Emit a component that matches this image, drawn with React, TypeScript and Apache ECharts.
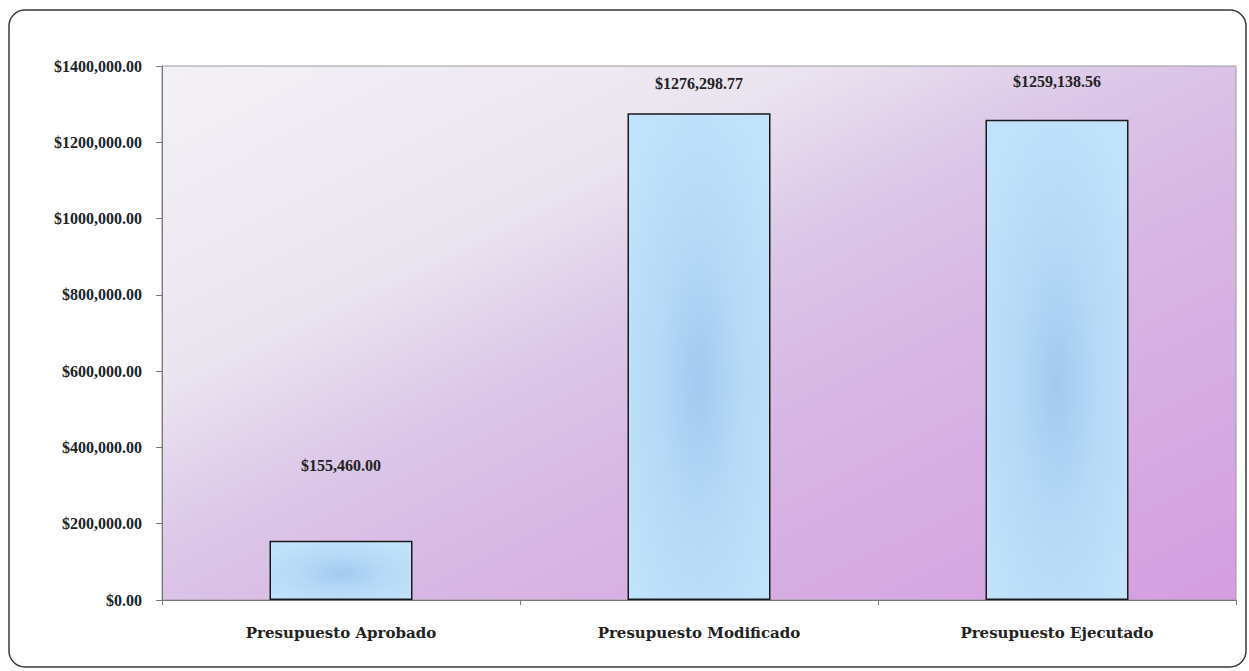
import React, { useEffect, useRef } from "react";
import * as echarts from "echarts";

const categories = ["Presupuesto Aprobado", "Presupuesto Modificado", "Presupuesto Ejecutado"];
const values = [155460.0, 1276298.77, 1259138.56];
const yMin = 0;
const yMax = 1400000;
const yInterval = 200000;

function fmtMoney(v: number): string {
  const th = Math.floor(v / 1000);
  const rest = v - th * 1000;
  if (th > 0) return `$${th},${rest.toFixed(2).padStart(6, "0")}`;
  return `$${rest.toFixed(2)}`;
}

const labelDistances = [67, 22, 30];

export default function App() {
  const ref = useRef<HTMLDivElement>(null);
  useEffect(() => {
    if (!ref.current) return;
    const chart = echarts.init(ref.current, undefined, { renderer: "svg" });
    const font = "'Liberation Serif', 'DejaVu Serif', serif";
    const catFont = "'DejaVu Serif', 'Liberation Serif', serif";
    chart.setOption({
      animation: false,
      backgroundColor: "#ffffff",
      textStyle: { fontFamily: font },
      graphic: [
        {
          type: "rect",
          shape: { x: 9, y: 10, width: 1237, height: 657, r: 16 },
          style: { fill: "none", stroke: "#3a3a3a", lineWidth: 1.5 },
          z: 100,
          silent: true,
        },
      ],
      grid: {
        left: 162,
        right: 13,
        top: 66,
        bottom: 71,
        show: true,
        borderColor: "#9a9a9a",
        borderWidth: 1,
        backgroundColor: new echarts.graphic.LinearGradient(0, 0, 1, 1, [
          { offset: 0, color: "#f3f1f6" },
          { offset: 0.3, color: "#ebe4f0" },
          { offset: 0.45, color: "#dcc8e8" },
          { offset: 0.6, color: "#d8b8e4" },
          { offset: 1, color: "#d49ee0" },
        ]),
      },
      xAxis: {
        type: "category",
        data: categories,
        axisLine: { lineStyle: { color: "#777", width: 1 } },
        axisTick: { show: true, alignWithLabel: false, length: 5, lineStyle: { color: "#777" } },
        axisLabel: {
          color: "#222",
          fontSize: 15,
          fontWeight: "bold",
          fontFamily: catFont,
          margin: 25,
        },
        splitLine: { show: false },
      },
      yAxis: {
        type: "value",
        min: yMin,
        max: yMax,
        interval: yInterval,
        axisLine: { show: true, lineStyle: { color: "#777", width: 1 } },
        axisTick: { show: true, length: 6, lineStyle: { color: "#777" } },
        axisLabel: {
          color: "#222",
          fontSize: 16,
          fontWeight: "bold",
          fontFamily: font,
          margin: 20,
          formatter: (v: number) => fmtMoney(v),
        },
        splitLine: { show: false },
      },
      series: [
        {
          type: "bar",
          data: values.map((v, i) => ({
            value: v,
            label: { distance: labelDistances[i] },
          })),
          barWidth: 143,
          itemStyle: {
            color: new echarts.graphic.RadialGradient(0.5, 0.55, 0.6, [
              { offset: 0, color: "#a2caf0" },
              { offset: 0.5, color: "#b6d9f7" },
              { offset: 1, color: "#c0e2fb" },
            ]),
            borderColor: "#1a1a1a",
            borderWidth: 1.5,
          },
          label: {
            show: true,
            position: "top",
            color: "#222",
            fontSize: 16,
            fontWeight: "bold",
            fontFamily: font,
            formatter: (p: any) => fmtMoney(p.value),
          },
        },
      ],
    });
    return () => chart.dispose();
  }, []);
  return (
    <div
      ref={ref}
      style={{ position: "fixed", left: 0, top: 0, width: 1249, height: 671 }}
    />
  );
}
